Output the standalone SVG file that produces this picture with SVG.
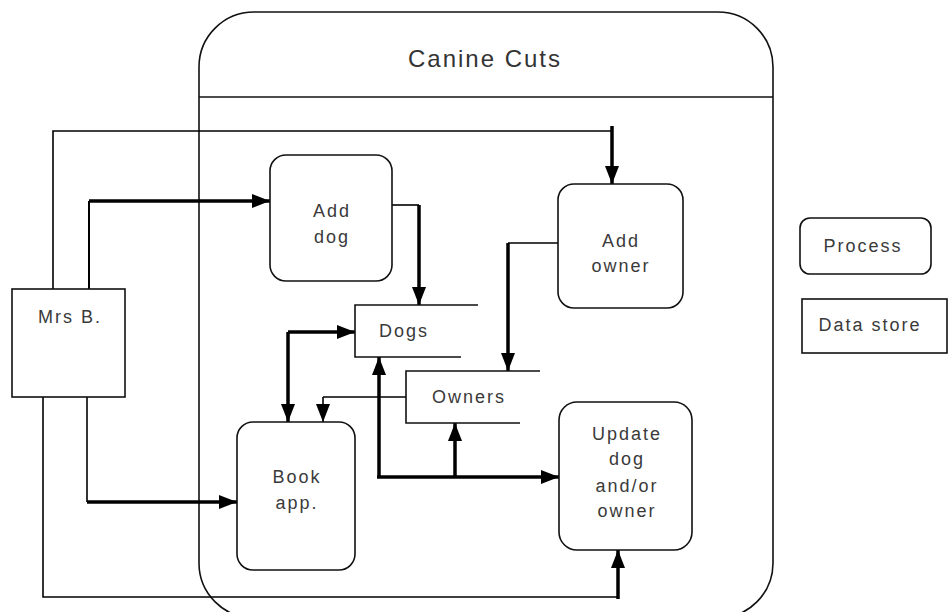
<svg xmlns="http://www.w3.org/2000/svg" width="952" height="612" viewBox="0 0 952 612">
<defs>
<marker id="ah" viewBox="0 0 18 14" refX="18" refY="7" markerWidth="18" markerHeight="14" markerUnits="userSpaceOnUse" orient="auto">
<path d="M0,0 L18,7 L0,14 Z" fill="#000"/>
</marker>
</defs>
<style>
.box{fill:#fff;stroke:#111;stroke-width:1.6}
.store{fill:none;stroke:#111;stroke-width:1.6}
.t{font-family:"Liberation Sans",Arial,sans-serif;font-size:18px;letter-spacing:2px;fill:#3a3a3a;text-anchor:middle}
.thin{fill:none;stroke:#000;stroke-width:1.6}
.thick{fill:none;stroke:#000;stroke-width:3.5}
.arr{marker-end:url(#ah)}
</style>
<rect width="952" height="612" fill="#fff"/>
<g id="canine-cuts">
<rect x="199" y="12" width="574" height="606" rx="55" ry="55" fill="none" stroke="#111" stroke-width="1.6"/>
<line x1="199" y1="97" x2="773" y2="97" stroke="#111" stroke-width="1.6"/>
<text x="485" y="67" font-family="'Liberation Sans',Arial,sans-serif" font-size="24" letter-spacing="2" fill="#333" text-anchor="middle">Canine Cuts</text>
</g>
<g id="connectors">
<path class="thin" d="M53,289 V131 H612"/>
<path class="thick arr" d="M612,126 V184"/>
<path d="M89,289 V201" fill="none" stroke="#000" stroke-width="2"/>
<path class="thick arr" d="M89,201 H270"/>
<path class="thin" d="M392,205 H419"/>
<path class="thick arr" d="M419,205 V305"/>
<path class="thin" d="M558,243 H508"/>
<path class="thick arr" d="M508,243 V371"/>
<path class="thin" d="M406,397 H323"/>
<path class="thin arr" d="M323,397 V422"/>
<path class="thick arr" d="M288,332 H355"/>
<path class="thick arr" d="M288,332 V422"/>
<path class="thick arr" d="M379,477 V357"/>
<path class="thick arr" d="M377,477 H559"/>
<path class="thick arr" d="M455,477 V423"/>
<path class="thin" d="M87,397 V502"/>
<path class="thick arr" d="M87,502 H237"/>
<path class="thin" d="M43,397 V597 H618"/>
<path class="thick arr" d="M618,599 V550"/>
</g>
<g id="mrs-b">
<rect class="box" x="12" y="289" width="113" height="108"/>
<text class="t" x="70" y="323">Mrs B.</text>
</g>
<g id="add-dog">
<rect class="box" x="270" y="155" width="122" height="126" rx="16"/>
<text class="t" x="332" y="217">Add</text>
<text class="t" x="332" y="243">dog</text>
</g>
<g id="add-owner">
<rect class="box" x="558" y="184" width="125" height="124" rx="16"/>
<text class="t" x="621" y="247">Add</text>
<text class="t" x="621" y="272">owner</text>
</g>
<g id="dogs">
<path class="store" d="M478,305 H355 V357 H461"/>
<text class="t" x="404" y="337">Dogs</text>
</g>
<g id="owners">
<path class="store" d="M540,371 H406 V423 H520"/>
<text class="t" x="469" y="403">Owners</text>
</g>
<g id="book-app">
<rect class="box" x="237" y="422" width="118" height="148" rx="16"/>
<text class="t" x="297" y="483">Book</text>
<text class="t" x="297" y="509">app.</text>
</g>
<g id="update">
<rect class="box" x="559" y="402" width="133" height="148" rx="18"/>
<text class="t" x="627" y="440">Update</text>
<text class="t" x="627" y="465">dog</text>
<text class="t" x="627" y="492">and/or</text>
<text class="t" x="627" y="517">owner</text>
</g>
<g id="legend-process">
<rect class="box" x="800" y="218" width="131" height="56" rx="10"/>
<text class="t" x="863" y="252">Process</text>
</g>
<g id="legend-datastore">
<rect class="box" x="802" y="299" width="145" height="54"/>
<text class="t" x="870" y="331">Data store</text>
</g>
</svg>
